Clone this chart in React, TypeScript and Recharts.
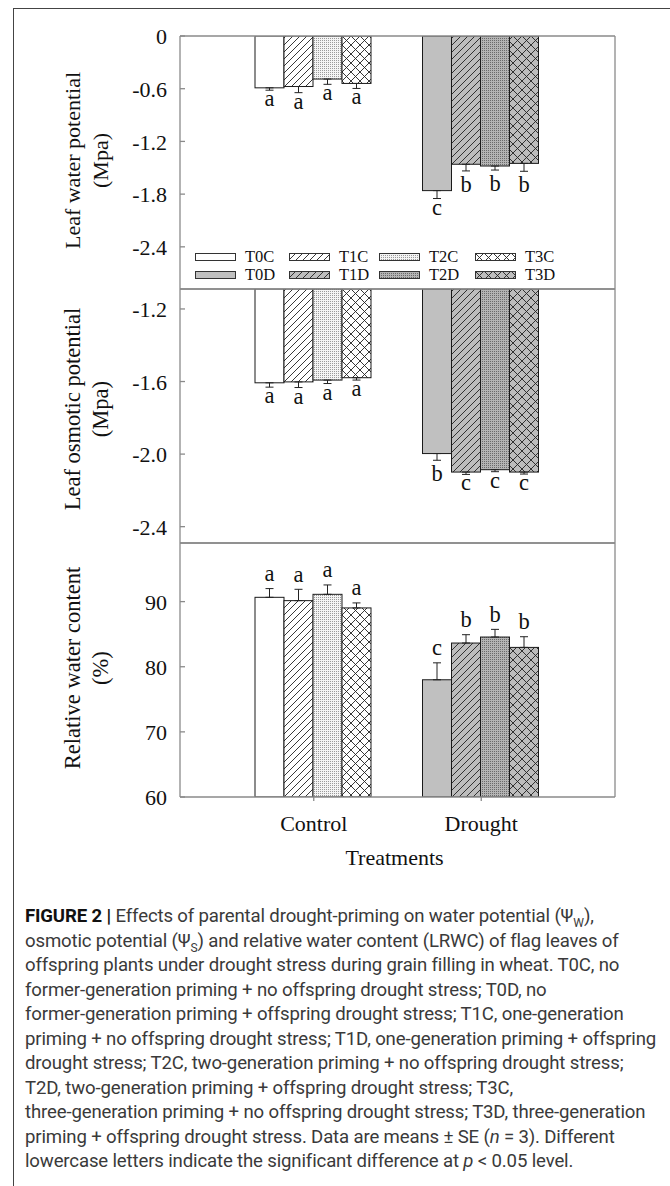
import React from 'react';
import { BarChart, Bar, XAxis, YAxis, ErrorBar, Legend, Label } from 'recharts';

const categories = ['Control', 'Drought'];
const legendLabels = ['T0C', 'T1C', 'T2C', 'T3C', 'T0D', 'T1D', 'T2D', 'T3D'];

// Leaf water potential (MPa), each array = [Control, Drought]
const wpT0 = [-0.59, -1.76];
const wpT1 = [-0.575, -1.46];
const wpT2 = [-0.49, -1.48];
const wpT3 = [-0.54, -1.45];
const wpSeT0 = [0.027, 0.09];
const wpSeT1 = [0.07, 0.076];
const wpSeT2 = [0.06, 0.046];
const wpSeT3 = [0.057, 0.09];
const wpLetT0 = ['a', 'c'];
const wpLetT1 = ['a', 'b'];
const wpLetT2 = ['a', 'b'];
const wpLetT3 = ['a', 'b'];
const wpTicks = [0, -0.6, -1.2, -1.8, -2.4];
const wpTickLabels = ['0', '-0.6', '-1.2', '-1.8', '-2.4'];

// Leaf osmotic potential (MPa)
const opT0 = [-1.607, -1.997];
const opT1 = [-1.602, -2.099];
const opT2 = [-1.592, -2.086];
const opT3 = [-1.579, -2.099];
const opSeT0 = [0.024, 0.037];
const opSeT1 = [0.031, 0.013];
const opSeT2 = [0.019, 0.011];
const opSeT3 = [0.013, 0.011];
const opLetT0 = ['a', 'b'];
const opLetT1 = ['a', 'c'];
const opLetT2 = ['a', 'c'];
const opLetT3 = ['a', 'c'];
const opTicks = [-1.2, -1.6, -2.0, -2.4];
const opTickLabels = ['-1.2', '-1.6', '-2.0', '-2.4'];

// Relative water content (%)
const rwT0 = [90.66, 78.0];
const rwT1 = [90.15, 83.64];
const rwT2 = [91.12, 84.56];
const rwT3 = [89.03, 82.97];
const rwSeT0 = [1.34, 2.6];
const rwSeT1 = [1.74, 1.28];
const rwSeT2 = [1.44, 1.18];
const rwSeT3 = [0.77, 1.64];
const rwLetT0 = ['a', 'c'];
const rwLetT1 = ['a', 'b'];
const rwLetT2 = ['a', 'b'];
const rwLetT3 = ['a', 'b'];
const rwTicks = [60, 70, 80, 90];
const rwTickLabels = ['60', '70', '80', '90'];

const SERIF = '"Liberation Serif", "Times New Roman", Times, serif';
const SANS = 'Roboto, "Liberation Sans", Arial, sans-serif';
const AXIS = '#8a8a8a';
const INK = '#111';

const controlFills = ['#ffffff', 'url(#pT1C)', 'url(#pT2C)', 'url(#pT3C)'];
const droughtFills = ['#c0c0c0', 'url(#pT1D)', 'url(#pT2D)', 'url(#pT3D)'];
const legendFills = [...controlFills, ...droughtFills];

function buildRows(vals: number[][], ses: number[][], lets: string[][], downward: boolean) {
  return categories.map((cat, i) => {
    const row: any = { cat };
    vals.forEach((v, s) => {
      row[`v${s}`] = v[i];
      row[`se${s}`] = ses[s][i];
      row[`eb${s}`] = downward ? [ses[s][i], 0] : [0, ses[s][i]];
      row[`l${s}`] = lets[s][i];
    });
    return row;
  });
}

const panels = [
  {
    rows: buildRows([wpT0, wpT1, wpT2, wpT3], [wpSeT0, wpSeT1, wpSeT2, wpSeT3], [wpLetT0, wpLetT1, wpLetT2, wpLetT3], true),
    domain: [-2.88, 0] as [number, number], base: 0, downward: true,
    ticks: wpTicks, tickLabels: wpTickLabels,
    title: 'Leaf water potential', unit: '(Mpa)', titleShift: -2, titleSize: 22,
    top: 0, height: 300, mb: 10, showX: false, legend: true,
  },
  {
    rows: buildRows([opT0, opT1, opT2, opT3], [opSeT0, opSeT1, opSeT2, opSeT3], [opLetT0, opLetT1, opLetT2, opLetT3], true),
    domain: [-2.49, -1.09] as [number, number], base: -1.09, downward: true,
    ticks: opTicks, tickLabels: opTickLabels,
    title: 'Leaf osmotic potential', unit: '(Mpa)', titleShift: -7, titleSize: 22.5,
    top: 253, height: 300, mb: 9, showX: false, legend: false,
  },
  {
    rows: buildRows([rwT0, rwT1, rwT2, rwT3], [rwSeT0, rwSeT1, rwSeT2, rwSeT3], [rwLetT0, rwLetT1, rwLetT2, rwLetT3], false),
    domain: [60, 99] as [number, number], base: 60, downward: false,
    ticks: rwTicks, tickLabels: rwTickLabels,
    title: 'Relative water content', unit: '(%)', titleShift: -2, titleSize: 22.5,
    top: 507, height: 380, mb: 10, showX: true, legend: false,
  },
];

const makeShape = (s: number, base: number, downward: boolean) => (props: any) => {
  const { x, y, width, height, payload } = props;
  if (x == null || y == null || !payload) return null;
  const ci = categories.indexOf(payload.cat);
  const fill = ci === 0 ? controlFills[s] : droughtFills[s];
  const top = Math.min(y, y + height);
  const h = Math.abs(height);
  const value = payload[`v${s}`];
  const k = h / Math.abs(value - base);
  const errPx = payload[`se${s}`] * k;
  const cx = x + width / 2;
  const letter = payload[`l${s}`];
  const ly = downward ? top + h + errPx + (letter === 'b' ? 21 : 16) : top - errPx - 7.5;
  return (
    <g>
      <rect x={x} y={top} width={width} height={h} fill={fill} stroke="#1a1a1a" strokeWidth={1} />
      <text x={cx} y={ly} textAnchor="middle" fontFamily={SERIF} fontSize={22.5} fill={INK}>
        {letter}
      </text>
    </g>
  );
};

const makeYTick = (ticks: number[], labels: string[]) => (props: any) => {
  const { x, y, payload } = props;
  const idx = ticks.findIndex((t) => Math.abs(t - payload.value) < 1e-9);
  const lab = idx >= 0 ? labels[idx] : String(payload.value);
  return (
    <g>
      <line x1={x} x2={x + 5} y1={y} y2={y} stroke={AXIS} strokeWidth={1.3} />
      <text x={x - 13} y={y} dy="0.38em" textAnchor="end" fontFamily={SERIF} fontSize={22} fill={INK}>
        {lab}
      </text>
    </g>
  );
};

const makeTitle = (title: string, unit: string, shift: number, size: number) => (props: any) => {
  const vb = props.viewBox || { x: 0, y: 0, width: 180, height: 253 };
  const cy = vb.y + vb.height / 2 + shift;
  const x1 = vb.x + 80;
  const x2 = vb.x + 108;
  return (
    <g>
      <text x={x1} y={cy} transform={`rotate(-90 ${x1} ${cy})`} textAnchor="middle" fontFamily={SERIF} fontSize={size} fill={INK}>
        {title}
      </text>
      <text x={x2} y={cy} transform={`rotate(-90 ${x2} ${cy})`} textAnchor="middle" fontFamily={SERIF} fontSize={size} fill={INK}>
        {unit}
      </text>
    </g>
  );
};

const treatmentsLabel = (props: any) => {
  const vb = props.viewBox || { x: 180, y: 797, width: 435, height: 80 };
  const cx = vb.x + vb.width / 2 - 3;
  return (
    <text x={cx} y={vb.y + 68} textAnchor="middle" fontFamily={SERIF} fontSize={22} fill={INK}>
      Treatments
    </text>
  );
};

const colLefts = [0, 94, 184, 280];

const LegendGrid = () => (
  <div style={{ position: 'relative', width: 420, height: 36, fontFamily: SERIF, fontSize: 16.5, color: INK }}>
    {legendLabels.map((lab, i) => {
      const row = Math.floor(i / 4);
      const col = i % 4;
      return (
        <div
          key={lab}
          style={{ position: 'absolute', left: colLefts[col], top: row * 18, height: 17, display: 'flex', alignItems: 'center', whiteSpace: 'nowrap' }}
        >
          <svg width={41} height={8} style={{ display: 'block' }}>
            <rect x={0.5} y={0.5} width={40} height={7} fill={legendFills[i]} stroke="#333" strokeWidth={1} />
          </svg>
          <span style={{ marginLeft: 9, lineHeight: '17px' }}>{lab}</span>
        </div>
      );
    })}
  </div>
);

const Patterns = () => (
  <svg width={0} height={0} style={{ position: 'absolute', left: 0, top: 0 }}>
    <defs>
      <pattern id="pT1C" width={7} height={7} patternUnits="userSpaceOnUse">
        <rect width={7} height={7} fill="#ffffff" />
        <path d="M-1,1 L1,-1 M0,7 L7,0 M6,8 L8,6" stroke="#222" strokeWidth={0.9} />
      </pattern>
      <pattern id="pT1D" width={7} height={7} patternUnits="userSpaceOnUse">
        <rect width={7} height={7} fill="#bdbdbd" />
        <path d="M-1,1 L1,-1 M0,7 L7,0 M6,8 L8,6" stroke="#222" strokeWidth={0.9} />
      </pattern>
      <pattern id="pT2C" width={2} height={2} patternUnits="userSpaceOnUse">
        <rect width={2} height={2} fill="#f4f4f4" />
        <rect width={1} height={1} fill="#9a9a9a" />
      </pattern>
      <pattern id="pT2D" width={2} height={2} patternUnits="userSpaceOnUse">
        <rect width={2} height={2} fill="#b4b4b4" />
        <rect width={1} height={1} fill="#6a6a6a" />
      </pattern>
      <pattern id="pT3C" width={9} height={9} patternUnits="userSpaceOnUse">
        <rect width={9} height={9} fill="#ffffff" />
        <path d="M0,0 L9,9 M9,0 L0,9" stroke="#222" strokeWidth={0.9} />
      </pattern>
      <pattern id="pT3D" width={9} height={9} patternUnits="userSpaceOnUse">
        <rect width={9} height={9} fill="#bdbdbd" />
        <path d="M0,0 L9,9 M9,0 L0,9" stroke="#222" strokeWidth={0.9} />
      </pattern>
    </defs>
  </svg>
);

const sub = { fontSize: '0.65em' };

const captionLines: React.ReactNode[] = [
  <><b style={{ color: '#111' }}>FIGURE 2 |</b> Effects of parental drought-priming on water potential (Ψ<sub style={sub}>W</sub>),</>,
  <>osmotic potential (Ψ<sub style={sub}>S</sub>) and relative water content (LRWC) of flag leaves of</>,
  <>offspring plants under drought stress during grain filling in wheat. T0C, no</>,
  <>former-generation priming + no offspring drought stress; T0D, no</>,
  <>former-generation priming + offspring drought stress; T1C, one-generation</>,
  <>priming + no offspring drought stress; T1D, one-generation priming + offspring</>,
  <>drought stress; T2C, two-generation priming + no offspring drought stress;</>,
  <>T2D, two-generation priming + offspring drought stress; T3C,</>,
  <>three-generation priming + no offspring drought stress; T3D, three-generation</>,
  <>priming + offspring drought stress. Data are means ± SE (<i>n</i> = 3). Different</>,
  <>lowercase letters indicate the significant difference at <i>p</i> &lt; 0.05 level.</>,
];

function Panel({ p }: { p: any }) {
  const axisLine = { stroke: AXIS, strokeWidth: 1.3 };
  return (
    <div style={{ position: 'absolute', left: 0, top: p.top, width: 670, height: p.height }}>
      <BarChart
        width={670}
        height={p.height}
        data={p.rows}
        margin={{ top: 35, right: 54, bottom: p.mb, left: 0 }}
        barGap={0}
        barCategoryGap={25}
      >
        <XAxis
          xAxisId={0}
          dataKey="cat"
          padding={{ left: 50, right: 50 }}
          height={p.showX ? 80 : 1}
          axisLine={axisLine}
          tickLine={p.showX ? { stroke: AXIS, strokeWidth: 1.3 } : false}
          tickSize={4}
          tickMargin={14}
          interval={0}
          tick={p.showX ? { fontSize: 22, fill: INK, fontFamily: SERIF } : false}
          label={p.showX ? <Label content={treatmentsLabel} /> : undefined}
        />
        <XAxis xAxisId="top" orientation="top" dataKey="cat" height={1} tick={false} tickLine={false} axisLine={axisLine} />
        <YAxis
          yAxisId={0}
          type="number"
          domain={p.domain}
          allowDataOverflow
          ticks={p.ticks}
          interval={0}
          width={180}
          tickSize={0}
          tickMargin={0}
          tickLine={false}
          axisLine={axisLine}
          tick={makeYTick(p.ticks, p.tickLabels)}
          label={<Label content={makeTitle(p.title, p.unit, p.titleShift, p.titleSize)} />}
        />
        <YAxis yAxisId="r" orientation="right" width={1} tick={false} tickLine={false} axisLine={axisLine} />
        {[0, 1, 2, 3].map((s) => (
          <Bar
            key={s}
            xAxisId={0}
            yAxisId={0}
            dataKey={`v${s}`}
            isAnimationActive={false}
            shape={makeShape(s, p.base, p.downward)}
          >
            <ErrorBar dataKey={`eb${s}`} width={4} stroke="#222" strokeWidth={1} direction="y" isAnimationActive={false} />
          </Bar>
        ))}
        {p.legend && (
          <Legend
            layout="horizontal"
            verticalAlign="middle"
            align="center"
            wrapperStyle={{ position: 'absolute', left: 195, top: 248, width: 420, height: 36 }}
            content={() => <LegendGrid />}
          />
        )}
      </BarChart>
    </div>
  );
}

export default function App() {
  return (
    <div style={{ position: 'absolute', left: 0, top: 0, width: 670, height: 1186, background: '#fff', overflow: 'hidden' }}>
      <Patterns />
      <div style={{ position: 'absolute', left: 13, top: 8, width: 657, height: 0, borderTop: '1.5px solid #444' }} />
      <div style={{ position: 'absolute', left: 13, top: 8, width: 0, height: 1178, borderLeft: '1.5px solid #444' }} />
      {panels.map((p, i) => (
        <Panel key={i} p={p} />
      ))}
      <div
        style={{
          position: 'absolute',
          left: 25,
          top: 904,
          width: 645,
          fontFamily: SANS,
          fontSize: 18.6,
          letterSpacing: '-0.15px',
          lineHeight: '24.5px',
          color: '#3a3a3a',
        }}
      >
        {captionLines.map((ln, i) => (
          <div key={i} style={{ whiteSpace: 'nowrap', height: 24.5 }}>
            {ln}
          </div>
        ))}
      </div>
    </div>
  );
}
